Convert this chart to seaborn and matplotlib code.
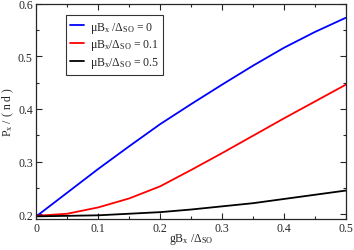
import numpy as np
import pandas as pd
import matplotlib
matplotlib.use("Agg")
import matplotlib.pyplot as plt
import seaborn as sns

# values
gB = [0.0, 0.05, 0.1, 0.15, 0.2, 0.25, 0.3, 0.35, 0.4, 0.45, 0.5]
p_mu0 = [0.196, 0.241, 0.286, 0.329, 0.371, 0.409, 0.446, 0.482, 0.516, 0.546, 0.573]
p_mu01 = [0.197, 0.201, 0.213, 0.230, 0.253, 0.284, 0.316, 0.349, 0.382, 0.414, 0.446]
p_mu05 = [0.196, 0.197, 0.198, 0.201, 0.204, 0.209, 0.215, 0.221, 0.229, 0.237, 0.245]
labels = ["μB$_\\mathrm{x}$ /Δ$_\\mathrm{SO}$ = 0",
          "μB$_\\mathrm{x}$/Δ$_\\mathrm{SO}$ = 0.1",
          "μB$_\\mathrm{x}$/Δ$_\\mathrm{SO}$ = 0.5"]
colors = ["#0000ff", "#ff0000", "#000000"]

sns.set_style("ticks")
plt.rcParams["font.family"] = ["Liberation Serif", "DejaVu Serif"]
plt.rcParams["mathtext.fontset"] = "custom"
plt.rcParams["mathtext.rm"] = "Liberation Serif"
plt.rcParams["mathtext.it"] = "Liberation Serif:italic"

df = pd.DataFrame({
    "gB": gB * 3,
    "P": p_mu0 + p_mu01 + p_mu05,
    "series": [labels[0]] * len(gB) + [labels[1]] * len(gB) + [labels[2]] * len(gB),
})

fig = plt.figure(figsize=(3.54, 2.51), dpi=100)
ax = fig.add_axes([0.1025, 0.1235, 0.8745, 0.8585])
sns.lineplot(data=df, x="gB", y="P", hue="series", palette=colors, lw=1.3, ax=ax)

ax.set_xlim(0, 0.5)
ax.set_ylim(0.191, 0.6)
ax.set_xticks([0, 0.1, 0.2, 0.3, 0.4, 0.5])
ax.set_xticklabels(["0", "0.1", "0.2", "0.3", "0.4", "0.5"])
ax.set_yticks([0.2, 0.3, 0.4, 0.5, 0.6])
ax.set_xticks(np.arange(0.05, 0.5, 0.1), minor=True)
ax.set_yticks([0.25, 0.35, 0.45, 0.55], minor=True)
ax.tick_params(which="both", direction="in", top=True, right=True, labelsize=8.5, width=0.8, pad=2.5)
ax.tick_params(which="major", length=4)
ax.tick_params(which="minor", length=2)
for s in ax.spines.values():
    s.set_linewidth(0.9)

ax.set_xlabel("gB$_\\mathrm{x}$ /Δ$_\\mathrm{SO}$", fontsize=8.5)
ax.set_ylabel("P$_\\mathrm{x}$ / ( n d )", fontsize=8.5)
ax.xaxis.set_label_coords(0.5, -0.055)
ax.yaxis.set_label_coords(-0.066, 0.5)

leg = ax.legend(loc="upper left", bbox_to_anchor=(0.095, 0.945), fontsize=8.5,
                frameon=True, fancybox=False, edgecolor="black", handlelength=1.2,
                handletextpad=0.5, labelspacing=0.25, borderpad=0.35, borderaxespad=0)
leg.get_frame().set_linewidth(0.8)

fig.savefig("out.png", dpi=100)
